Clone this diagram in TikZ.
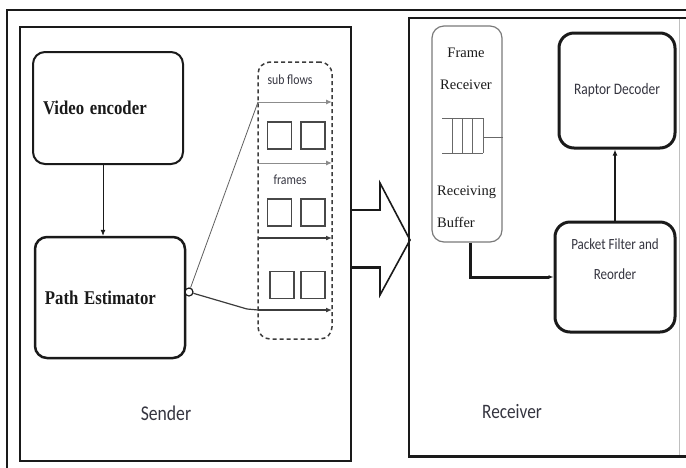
\documentclass[tikz,border=0pt]{standalone}
\usepackage{fontspec}
\usepackage{graphicx}
\setmainfont{Liberation Serif}
\newfontfamily\labelfont{Carlito}
\usetikzlibrary{arrows.meta,calc}
\definecolor{ink}{HTML}{1A1A1A}
\definecolor{softink}{HTML}{34343F}
\definecolor{framegray}{HTML}{7A7A7A}
\definecolor{flowgray}{HTML}{8C8C8C}
% narrow set for the labels
\newcommand{\narrowtext}[1]{\scalebox{0.84}[1]{#1}}
\newcommand{\narrowbold}[1]{\scalebox{0.86}[1]{#1}}
\tikzset{
  blockbox/.style={draw=ink, rounded corners=12pt, inner sep=0pt},
  boldlabel/.style={font=\fontsize{19.5}{21}\selectfont\bfseries, text=ink},
  sanslabel/.style={text=softink},
  seriflabel/.style={font=\fontsize{14.5}{16}\selectfont, text=ink, inner sep=0pt},
  slot/.style={draw=ink!80, line width=1.4pt, minimum width=24pt, minimum height=27pt, inner sep=0pt},
  flowarrow/.style={-{Latex[length=6pt,width=5pt]}, line width=1pt},
  >={Latex[length=6pt,width=5pt]}
}
\begin{document}
\begin{tikzpicture}[x=1pt,y=-1pt]
\useasboundingbox (0,0) rectangle (686,467);
\clip (0,0) rectangle (686,467);

% outer page frame
\draw[line width=2pt, ink] (7,480) -- (7,10) -- (700,10);

% sender enclosure
\draw[line width=2.5pt, ink] (20,27) rectangle (351,461);

% receiver enclosure
\draw[line width=0.8pt, black!25] (679,18) -- (679,456);
\draw[line width=2.2pt, ink] (686,18) -- (409,18) -- (409,456);
\draw[line width=3pt, ink] (408,456) -- (686,456);

% transfer arrow between the two sides
\draw[line width=1.6pt, ink, line join=miter] (351,210) -- (380,210) -- (380,183) -- (410,240) -- (380,295) -- (380,267);
\draw[line width=3pt, ink] (351,267) -- (381,267);

% sender blocks
\node[blockbox, line width=2pt, minimum width=150pt, minimum height=112pt,
      text width=130pt, align=left, boldlabel] (venc) at (108,108) {\narrowbold{Video encoder}\\[14pt]};
\node[blockbox, line width=2.5pt, minimum width=150pt, minimum height=121pt,
      text width=130pt, align=left, boldlabel] (pest) at (110,297.5) {\narrowbold{Path Estimator}\\[10pt]};
\draw[->, line width=0.8pt, ink] ([xshift=-5pt]venc.south) -- ([xshift=-5pt]venc.south |- pest.north);

% sub-flow container
\node[draw=ink!85, dashed, dash pattern=on 4pt off 3pt, line width=1.5pt, rounded corners=12pt,
      minimum width=74pt, minimum height=277pt, inner sep=0pt] (flows) at (295,200.5) {};
\node[sanslabel, font=\labelfont\fontsize{14}{16}\selectfont] (subflowlbl) at (290,80) {\narrowtext{sub flows}};
\node[sanslabel, font=\labelfont\fontsize{14}{16}\selectfont] (frameslbl) at (290,180) {\narrowtext{frames}};

% flow lanes
\coordinate (f1s) at (258,102); \coordinate (f1e) at (332,102);
\coordinate (f2s) at (258,163); \coordinate (f2e) at (332,163);
\coordinate (f3s) at (258,238); \coordinate (f3e) at (332,238);
\coordinate (f4s) at (258,310); \coordinate (f4e) at (332,310);
\draw[flowarrow, flowgray] (f1s) -- (f1e);
\draw[flowarrow, flowgray] (f2s) -- (f2e);
\draw[flowarrow, ink!85, line width=1.3pt] (f3s) -- (f3e);
\draw[flowarrow, ink!85, line width=1.3pt] (f4s) -- (f4e);

% frames waiting in each lane
\node[slot] (s1a) at (279.5,135.5) {};
\node[slot] (s1b) at (313,135.5) {};
\node[slot] (s2a) at (279.5,212.5) {};
\node[slot] (s2b) at (313,212.5) {};
\node[slot] (s3a) at (282,285) {};
\node[slot] (s3b) at (313,285) {};

% splitter port on the path estimator
\node[draw=ink, fill=white, circle, line width=1.2pt, minimum size=8pt, inner sep=0pt] (port) at (189,292) {};
\draw[line width=0.8pt, ink!70] (port) -- (f1s);
\draw[line width=1.2pt, ink!85] (port) -- (247,309) -- (f4s);

\node[sanslabel, font=\labelfont\fontsize{21}{24}\selectfont] (senderlbl) at (166,413) {\narrowtext{Sender}};

% receiver blocks
\node[draw=framegray, rounded corners=12pt, line width=1.2pt, minimum width=70pt, minimum height=216pt, inner sep=0pt] (frx) at (467,134) {};
\node[seriflabel] (frxa) at (466,53) {Frame};
\node[seriflabel] (frxb) at (466,85) {Receiver};
\node[seriflabel, anchor=west] (bufa) at (437,192) {Receiving};
\node[seriflabel, anchor=west] (bufb) at (437,222) {Buffer};

% receiving buffer queue
\draw[framegray!85!black, line width=1pt] (442,118) -- (483,118) (442,153) -- (483,153)
  (452,118) -- (452,153) (462,118) -- (462,153) (472,118) -- (472,153) (483,118) -- (483,153);
\draw[framegray!85!black, line width=1pt] (483,137) -- (frx.east |- 483,137);

\node[blockbox, line width=3pt, rounded corners=15pt, minimum width=116pt, minimum height=115pt,
      align=center, sanslabel, font=\labelfont\fontsize{16}{18}\selectfont] (rdec) at (617,90.5) {\narrowtext{Raptor Decoder}};
\node[blockbox, line width=3pt, rounded corners=15pt, minimum width=120pt, minimum height=110pt,
      align=center, sanslabel, font=\labelfont\fontsize{15.5}{30}\selectfont] (pkf) at (615,277)
      {\narrowtext{Packet Filter and}\\\narrowtext{Reorder}\\[6pt]};

\draw[-{Latex[length=5pt,width=4pt]}, line width=3pt, ink] ([xshift=3pt]frx.south) |- (pkf.west);
\draw[->, line width=1.6pt, ink] (pkf.north) -- (pkf.north |- rdec.south);

\node[sanslabel, font=\labelfont\fontsize{20.5}{24}\selectfont] (receiverlbl) at (512,412) {\narrowtext{Receiver}};
\end{tikzpicture}
\end{document}
